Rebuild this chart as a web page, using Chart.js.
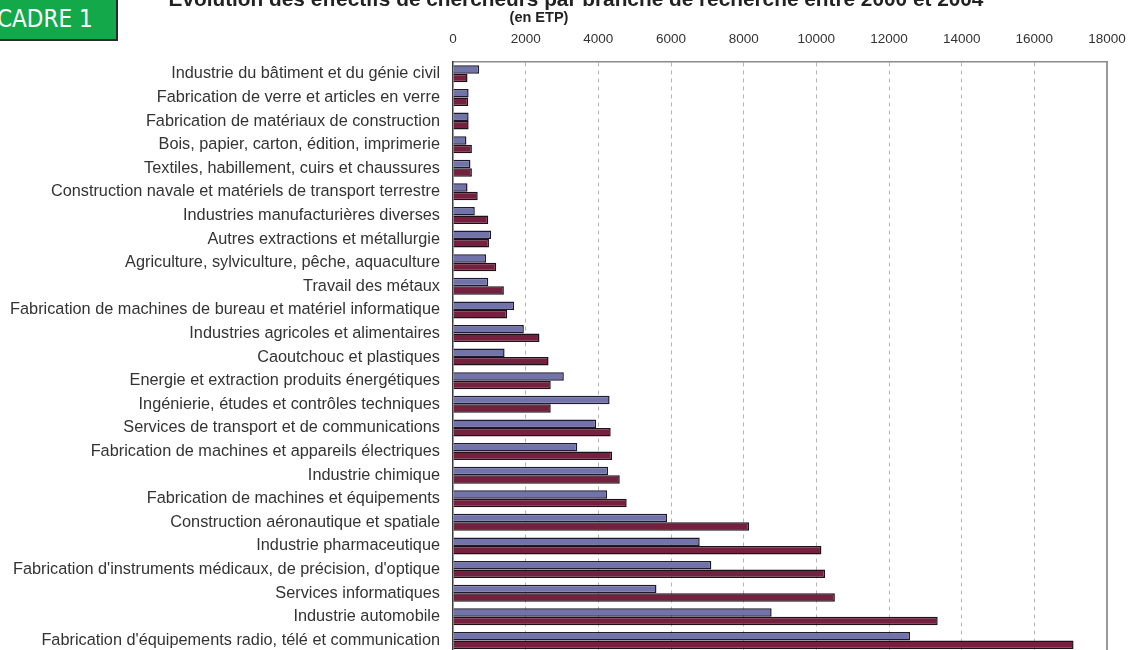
<!DOCTYPE html>
<html lang="fr">
<head>
<meta charset="utf-8">
<title>Effectifs de chercheurs par branche</title>
<script src="https://cdn.jsdelivr.net/npm/chart.js@4.4.1/dist/chart.umd.min.js"></script>
<style>
  body { margin: 0; background: #fff; overflow: hidden; font-family: "Liberation Sans", Arial, sans-serif; }
  .cadre {
    position: absolute; left: -3px; top: -2px; width: 121px; height: 43px;
    background: #13a94b; border: 1px solid #2b2b2b; border-width: 0 2px 2px 0;
    color: #fff; font-family: "DejaVu Sans Condensed", "Roboto", sans-serif;
    font-size: 24px; line-height: 42px; box-sizing: border-box; z-index: 2;
  }
  .titre {
    position: absolute; left: 166px; top: -13px; width: 820px; text-align: center;
    font-weight: bold; font-size: 20.8px; color: #222; white-space: nowrap; z-index: 2;
  }
  .unite {
    position: absolute; left: 480px; top: 9px; width: 118px; text-align: center;
    font-weight: bold; font-size: 14.5px; color: #222; z-index: 2;
  }
  .contenedor { position: absolute; left: 0; top: 0; width: 1131px; height: 675px; }
</style>
</head>
<body>
<div class="cadre">CADRE 1</div>
<div class="titre">Evolution des effectifs de chercheurs par branche de recherche entre 2000 et 2004</div>
<div class="unite">(en ETP)</div>
<div class="contenedor"><canvas class="grafico" width="1131" height="675"></canvas></div>

<script>
const branches = [
    "Industrie du bâtiment et du génie civil",
    "Fabrication de verre et articles en verre",
    "Fabrication de matériaux de construction",
    "Bois, papier, carton, édition, imprimerie",
    "Textiles, habillement, cuirs et chaussures",
    "Construction navale et matériels de transport terrestre",
    "Industries manufacturières diverses",
    "Autres extractions et métallurgie",
    "Agriculture, sylviculture, pêche, aquaculture",
    "Travail des métaux",
    "Fabrication de machines de bureau et matériel informatique",
    "Industries agricoles et alimentaires",
    "Caoutchouc et plastiques",
    "Energie et extraction produits énergétiques",
    "Ingénierie, études et contrôles techniques",
    "Services de transport et de communications",
    "Fabrication de machines et appareils électriques",
    "Industrie chimique",
    "Fabrication de machines et équipements",
    "Construction aéronautique et spatiale",
    "Industrie pharmaceutique",
    "Fabrication d'instruments médicaux, de précision, d'optique",
    "Services informatiques",
    "Industrie automobile",
    "Fabrication d'équipements radio, télé et communication"
];

// effectifs 2000 (barre du haut)
const effectifs2000 = [720, 430, 430, 370, 480, 400, 600, 1050, 910, 970, 1680, 1950, 1420,
    3050, 4310, 3940, 3420, 4270, 4240, 5890, 6790, 7110, 5600, 8770, 12580];

// effectifs 2004 (barre du bas)
const effectifs2004 = [400, 420, 430, 520, 520, 680, 970, 990, 1190, 1400, 1490, 2380, 2630,
    2690, 2690, 4340, 4380, 4590, 4780, 8150, 10140, 10240, 10510, 13340, 17080];

const xTicks = [0, 2000, 4000, 6000, 8000, 10000, 12000, 14000, 16000, 18000];

const canvas = document.querySelector('.grafico');

// bord droit du cadre du graphique
const cadrePlugin = {
    id: 'cadre',
    afterDraw(chart) {
        const { ctx, chartArea } = chart;
        ctx.save();
        ctx.strokeStyle = '#9a9a9a';
        ctx.lineWidth = 2;
        ctx.beginPath();
        ctx.moveTo(chartArea.right, chartArea.top);
        ctx.lineTo(chartArea.right, chartArea.bottom);
        ctx.stroke();
        ctx.restore();
    }
};

const config = {
    type: 'bar',
    data: {
        labels: branches,
        datasets: [{
            label: '2000',
            data: effectifs2000,
            backgroundColor: '#7373ab',
            borderColor: '#1e1a2e',
            borderWidth: 1.5,
            categoryPercentage: 0.72,
            barPercentage: 1.0
        }, {
            label: '2004',
            data: effectifs2004,
            backgroundColor: '#74203e',
            borderColor: '#1f0f16',
            borderWidth: 1.5,
            categoryPercentage: 0.72,
            barPercentage: 1.0
        }]
    },
    options: {
        indexAxis: 'y',
        responsive: false,
        animation: false,
        devicePixelRatio: 1,
        layout: { padding: { left: 0, right: 24, top: 0, bottom: 8 } },
        plugins: {
            legend: { display: false },
            tooltip: { enabled: false }
        },
        scales: {
            x: {
                position: 'top',
                min: xTicks[0],
                max: xTicks[xTicks.length - 1],
                afterFit: (s) => {
                    s.height = 62;
                    s.paddingLeft = 0;
                    s.paddingRight = 0;
                },
                ticks: {
                    stepSize: xTicks[1] - xTicks[0],
                    padding: 15,
                    color: '#333',
                    font: { family: '"Liberation Sans", Arial, sans-serif', size: 13.5 },
                    callback: (v, i) => String(xTicks[i])
                },
                grid: {
                    drawTicks: false,
                    color: (ctx) => (ctx.tick && ctx.tick.value === 0) ? 'rgba(0,0,0,0)' : '#b5b5b5',
                    lineWidth: 1
                },
                border: { display: true, color: '#8a8a8a', width: 1.5, dash: [4, 4] }
            },
            y: {
                afterFit: (s) => { s.width = 453; },
                ticks: {
                    autoSkip: false,
                    padding: 13,
                    color: '#333',
                    font: { family: '"Liberation Sans", Arial, sans-serif', size: 16.3 }
                },
                grid: { display: false, drawTicks: false },
                border: { display: true, color: '#3a3a3a', width: 1.5 }
            }
        }
    },
    plugins: [cadrePlugin]
};

let myChart = new Chart(canvas, config);
</script>
</body>
</html>
